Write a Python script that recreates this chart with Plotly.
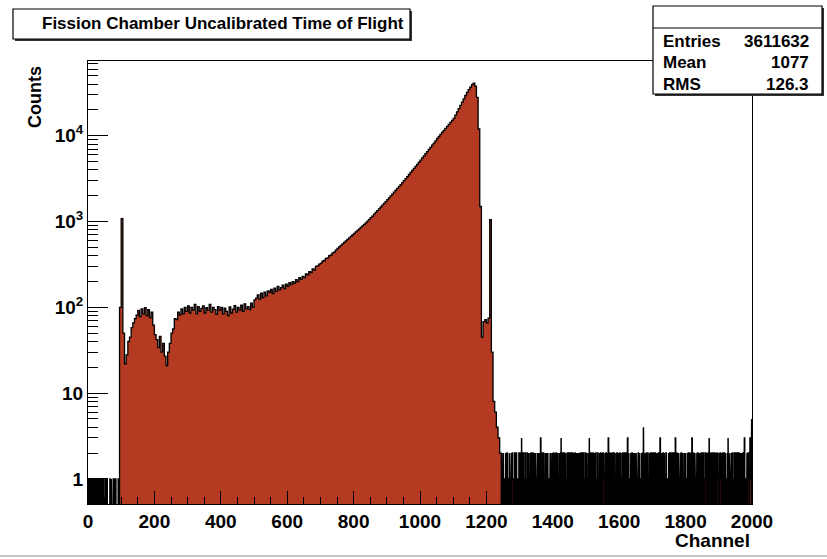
import numpy as np
import plotly.graph_objects as go

# ---- histogram contents -------------------------------------------------
# channels 0..94, one channel per bin (sparse single counts)
low_noise = (
    "1111011110111111011101111101111011110111"
    "0000" "110" "0000" "1101011" "00000000" "10110" "00000" "1011101101" "00000" "1100"
)

# channels 95..1244, five channels per bin
main_start = 95
main_width = 5
main_counts = [
    100, 1080, 50, 22, 28, 40, 45, 58, 66, 74,
    81, 92, 78, 96, 84, 99, 80, 94, 76, 88,
    62, 48, 42, 34, 46, 30, 38, 27, 21, 30,
    38, 50, 56, 74, 72, 88, 82, 96, 84, 100,
    90, 104, 86, 100, 93, 108, 84, 102, 90, 97,
    104, 86, 99, 92, 108, 88, 100, 94, 83, 102,
    92, 100, 84, 98, 90, 80, 101, 86, 95, 105,
    88, 100, 93, 106, 90, 110, 96, 102, 94, 112,
    100, 122, 128, 140, 124, 146, 130, 150, 136, 156,
    150, 162, 145, 168, 154, 175, 160, 170, 182, 166,
    186, 176, 194, 184, 200, 190, 210, 200, 222, 212,
    230, 222, 245, 240, 260, 255, 280, 272, 300, 305,
    320, 328, 345, 352, 372, 378, 402, 408, 432, 440,
    465, 488, 508, 527, 550, 572, 596, 620, 645, 672,
    700, 728, 758, 790, 822, 856, 892, 930, 968, 1010,
    1060, 1110, 1160, 1220, 1280, 1345, 1410, 1480, 1555, 1630,
    1710, 1800, 1893, 1990, 2095, 2205, 2320, 2440, 2565, 2700,
    2850, 3000, 3170, 3350, 3540, 3740, 3950, 4170, 4400, 4650,
    4920, 5210, 5520, 5840, 6180, 6540, 6930, 7340, 7770, 8230,
    8720, 9300, 9820, 10370, 10950, 11560, 12200, 12880, 13600, 14360,
    15160, 16000, 17450, 19000, 20750, 22600, 24700, 27000, 29500, 32000,
    34500, 37000, 39500, 41000, 38000, 28000, 12000, 1500, 45, 68,
    72, 66, 75, 1050, 30, 8, 6, 4, 3, 2,
]

# channels 1245..1999, one channel per bin (random-coincidence background)
high_noise = (
    "12101120111021011201010211101201121101012011021101"
    "01120112101301120101121011021012110120112010211021"
    "10211012010211201130112010211012101121102011012102"
    "11020112102101121012011021101230112011021012101102"
    "21101201120101211020112101210112010211201102011210"
    "01121012011021130112102011210120112101102110120112"
    "10201121101201121020113011210120112011021101201121"
    "02110120112101120112010211201130112011020112101210"
    "11201021101121012011021101204101120112010211012011"
    "20112101120102110211201120113011021012011210112010"
    "11021012011211020112101130112011021101201121012011"
    "02112011021012011201121030112011021101211201210112"
    "10211201120101121102011203110211201012011021012011"
    "21101201121102011201121012011021130121101120112010"
    "11201012011211021012101120112011302110120112110213"
    "21125"
)

stats_labels = ["Entries", "Mean", "RMS"]
stats_values = ["3611632", "1077", "126.3"]

x_ticks = list(range(0, 2001, 200))
y_ticks = [1, 10, 100, 1000, 10000]
y_ticktext = ["1", "10", "10<sup>2</sup>", "10<sup>3</sup>", "10<sup>4</sup>"]

FLOOR = 1e-2  # below the visible log range: empty bins drop off the axis
FONT = "Liberation Sans, Arial, Helvetica, sans-serif"
RED = "#b53a22"


def step_path(lo_edges, counts, width):
    """Closed step outline of a histogram segment (for fill='toself')."""
    xs, ys = [lo_edges[0]], [FLOOR]
    for a, c in zip(lo_edges, counts):
        v = c if c > 0 else FLOOR
        xs += [a, a + width]
        ys += [v, v]
    xs.append(lo_edges[-1] + width)
    ys.append(FLOOR)
    return xs, ys


segments = []
low_vals = [int(d) for d in low_noise]
segments.append((list(range(len(low_vals))), low_vals, 1, 1.5))
main_edges = [main_start + i * main_width for i in range(len(main_counts))]
segments.append((main_edges, main_counts, main_width, 1.3))
noise_start = main_start + len(main_counts) * main_width
high_vals = [int(d) for d in high_noise]
segments.append(([noise_start + i for i in range(len(high_vals))], high_vals, 1, 1.5))

fig = go.Figure()
for edges, vals, w, lw in segments:
    xs, ys = step_path(edges, vals, w)
    fig.add_trace(go.Scatter(
        x=xs, y=ys, mode="lines", fill="toself", fillcolor=RED,
        line=dict(color="black", width=lw), hoverinfo="skip", showlegend=False,
    ))

minor_y = [k * 10 ** d for d in range(0, 5) for k in range(2, 10)]

fig.update_layout(
    width=827, height=559,
    margin=dict(l=88, r=75, t=61, b=55),
    paper_bgcolor="white", plot_bgcolor="white",
    font=dict(family=FONT, color="black"),
    xaxis=dict(
        range=[0, 2000], tickmode="array", tickvals=x_ticks,
        ticks="inside", ticklen=13, tickwidth=1, tickcolor="black",
        minor=dict(ticks="inside", ticklen=7, tickwidth=1, tickcolor="black",
                   dtick=50, tick0=0, showgrid=False),
        showline=True, mirror=True, linecolor="black", linewidth=1,
        showgrid=False, zeroline=False,
        tickfont=dict(family=FONT, size=19, weight="bold", color="black"),
    ),
    yaxis=dict(
        type="log", range=[np.log10(0.51), np.log10(74500)],
        tickmode="array", tickvals=y_ticks, ticktext=y_ticktext,
        ticks="inside", ticklen=20, tickwidth=1, tickcolor="black",
        minor=dict(ticks="inside", ticklen=10, tickwidth=1, tickcolor="black",
                   tickmode="array", tickvals=minor_y, showgrid=False),
        showline=True, mirror=True, linecolor="black", linewidth=1,
        showgrid=False, zeroline=False,
        tickfont=dict(family=FONT, size=19, weight="bold", color="black"),
    ),
)


def px_x(p):
    return (p - 88) / 664.0


def px_y(p):
    return (504 - p) / 443.0


# title box and statistics box, each with a drop shadow
boxes = [(13, 9, 410, 39), (653, 6, 822, 94)]
for (x0, y0, x1, y1) in boxes:
    fig.add_shape(type="rect", xref="paper", yref="paper", layer="above",
                  x0=px_x(x0 + 2), x1=px_x(x1 + 2), y0=px_y(y1 + 2), y1=px_y(y0 + 2),
                  fillcolor="#333333", line=dict(width=0))
    fig.add_shape(type="rect", xref="paper", yref="paper", layer="above",
                  x0=px_x(x0), x1=px_x(x1), y0=px_y(y1), y1=px_y(y0),
                  fillcolor="white", line=dict(color="black", width=1.2))
fig.add_shape(type="line", xref="paper", yref="paper", layer="above",
              x0=px_x(653), x1=px_x(822), y0=px_y(28), y1=px_y(28),
              line=dict(color="black", width=1.2))
# thin grey rule along the bottom edge of the page
fig.add_shape(type="line", xref="paper", yref="paper", layer="above",
              x0=px_x(0), x1=px_x(827), y0=px_y(556), y1=px_y(556),
              line=dict(color="#c8c8c8", width=2))

fig.add_annotation(xref="paper", yref="paper", x=px_x(223), y=px_y(24),
                   text="<b>Fission Chamber Uncalibrated Time of Flight</b>",
                   showarrow=False, xanchor="center", yanchor="middle",
                   font=dict(family=FONT, size=17, color="black"))

for i, (lab, val) in enumerate(zip(stats_labels, stats_values)):
    yy = px_y(41 + 21.5 * i)
    fig.add_annotation(xref="paper", yref="paper", x=px_x(661), y=yy,
                       text=f"<b>{lab}</b>", showarrow=False,
                       xanchor="left", yanchor="middle",
                       font=dict(family=FONT, size=17, color="black"))
    fig.add_annotation(xref="paper", yref="paper", x=px_x(811), y=yy,
                       text=f"<b>{val}</b>", showarrow=False,
                       xanchor="right", yanchor="middle",
                       font=dict(family=FONT, size=17, color="black"))

fig.add_annotation(xref="paper", yref="paper", x=1.0, y=px_y(540),
                   text="<b>Channel</b>", showarrow=False,
                   xanchor="right", yanchor="middle",
                   font=dict(family=FONT, size=19, color="black"))
fig.add_annotation(xref="paper", yref="paper", x=px_x(35), y=px_y(97),
                   text="<b>Counts</b>", showarrow=False, textangle=-90,
                   xanchor="center", yanchor="middle",
                   font=dict(family=FONT, size=18, color="black"))

fig.write_html("out.html")
